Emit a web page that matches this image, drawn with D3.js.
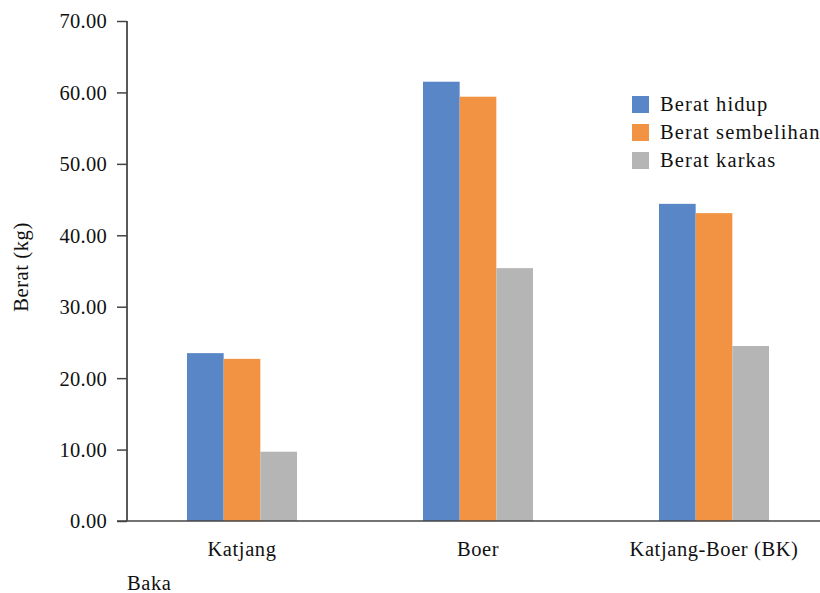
<!DOCTYPE html>
<html>
<head>
<meta charset="utf-8">
<script src="https://cdn.jsdelivr.net/npm/d3@7"></script>
<style>
  html, body { margin: 0; padding: 0; background: #fff; }
  svg text { font-family: "Liberation Serif", "DejaVu Serif", serif; fill: #111; }
</style>
</head>
<body>
<svg id="chart" width="820" height="593"></svg>
<script>
// Goat breeds and weights (kg)
const breeds = ["Katjang", "Boer", "Katjang-Boer (BK)"];
const seriesNames = ["Berat hidup", "Berat sembelihan", "Berat karkas"];
const beratHidup = [23.5, 61.5, 44.4];
const beratSembelihan = [22.7, 59.4, 43.1];
const beratKarkas = [9.7, 35.4, 24.5];
const yTicks = [0, 10, 20, 30, 40, 50, 60, 70];
const colors = ["#5886c6", "#f19342", "#b4b5b4"];

const seriesValues = [beratHidup, beratSembelihan, beratKarkas];

const svg = d3.select("#chart");
const plotLeft = 127, plotRight = 820, plotTop = 21, plotBottom = 521;
const fontSize = 20.5;

const x = d3.scaleBand().domain(breeds).range([124, 832]);
const groupWidth = 110;
const xInner = d3.scaleBand().domain(seriesNames).range([0, groupWidth]);
const y = d3.scaleLinear().domain([0, 70]).range([plotBottom, plotTop]);

// Bars
const groups = svg.append("g").selectAll("g")
  .data(breeds)
  .join("g")
  .attr("transform", d => `translate(${x(d) + (x.bandwidth() - groupWidth) / 2},0)`);

groups.selectAll("rect")
  .data((d, i) => seriesNames.map((s, j) => ({ s, v: seriesValues[j][i], j })))
  .join("rect")
  .attr("x", d => xInner(d.s))
  .attr("width", xInner.bandwidth())
  .attr("y", d => y(d.v))
  .attr("height", d => y(0) - y(d.v))
  .attr("fill", d => colors[d.j]);

// Y axis
const yAxis = d3.axisLeft(y).tickValues(yTicks).tickFormat(d3.format(".2f")).tickSize(10).tickPadding(10);
const yg = svg.append("g").attr("transform", `translate(${plotLeft},0)`).call(yAxis);
yg.select(".domain").attr("stroke", "#222").attr("stroke-width", 1.5).attr("d", `M0,${plotTop}V${plotBottom}`);
yg.selectAll(".tick line").attr("stroke", "#444").attr("stroke-width", 1.5);
yg.selectAll(".tick text")
  .attr("font-size", fontSize)
  .attr("font-family", "Liberation Serif")
  .attr("fill", "#111")
  .attr("letter-spacing", 0.3)
  .attr("dy", "0.34em");

// X axis line
svg.append("line")
  .attr("x1", 117).attr("x2", plotRight)
  .attr("y1", y(0)).attr("y2", y(0))
  .attr("stroke", "#444").attr("stroke-width", 1.5);

// Category labels
svg.append("g").selectAll("text")
  .data(breeds)
  .join("text")
  .attr("x", d => x(d) + x.bandwidth() / 2)
  .attr("y", 556)
  .attr("text-anchor", "middle")
  .attr("font-size", fontSize)
  .attr("letter-spacing", 0.6)
  .text(d => d);

// Axis titles
svg.append("text")
  .attr("transform", "translate(28,267) rotate(-90)")
  .attr("text-anchor", "middle")
  .attr("font-size", fontSize)
  .attr("letter-spacing", 0.6)
  .text("Berat (kg)");

svg.append("text")
  .attr("x", 127).attr("y", 590)
  .attr("font-size", fontSize)
  .attr("letter-spacing", 0.6)
  .text("Baka");

// Legend
const legend = svg.append("g").attr("transform", "translate(632,96)");
const items = legend.selectAll("g")
  .data(seriesNames)
  .join("g")
  .attr("transform", (d, i) => `translate(0,${i * 28})`);
items.append("rect").attr("width", 17).attr("height", 17).attr("fill", (d, i) => colors[i]);
items.append("text")
  .attr("x", 28).attr("y", 15)
  .attr("font-size", fontSize)
  .attr("letter-spacing", 1.1)
  .text(d => d);
</script>
</body>
</html>
